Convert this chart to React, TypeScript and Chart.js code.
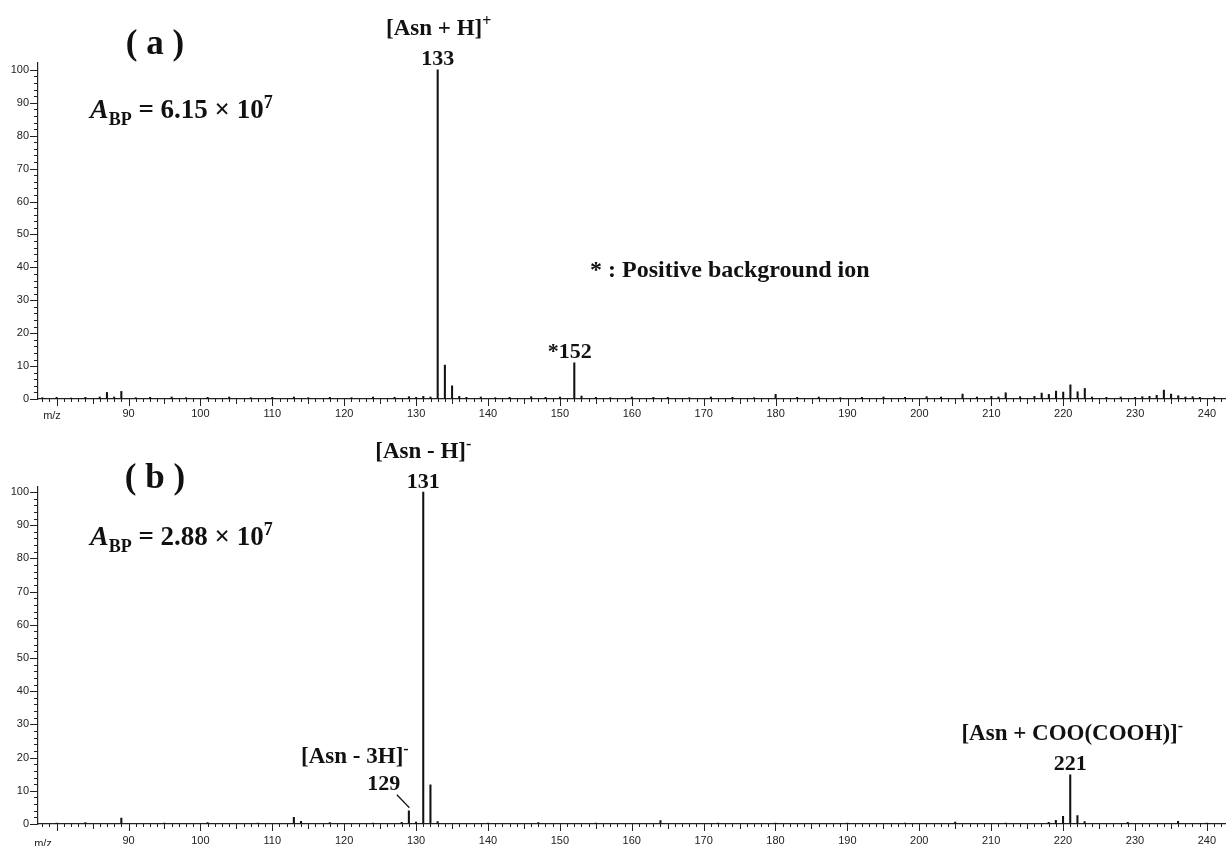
import React, { useEffect, useRef } from "react";
import { Chart, registerables } from "chart.js";

Chart.register(...registerables);

// m/z window shared by both spectra
const MZ_MIN = 77.41;
const MZ_MAX = 242.64;

// x-axis labelled ticks (m/z)
const X_LABELS = [90, 100, 110, 120, 130, 140, 150, 160, 170, 180, 190, 200, 210, 220, 230, 240];

// (a) positive-ion spectrum: m/z and relative abundance (%)
const posMz = [
  78, 80, 82, 84, 86, 87, 88, 89, 91, 93, 96, 98, 101, 104, 107, 110, 113, 115, 118, 121, 124, 127,
  129, 130, 131, 132, 133, 134, 135, 136, 137, 139, 141, 143, 146, 148, 150, 152, 153, 155, 157, 160,
  163, 165, 168, 171, 174, 177, 180, 183, 186, 189, 192, 195, 198, 201, 203, 206, 208, 210, 211, 212,
  214, 216, 217, 218, 219, 220, 221, 222, 223, 224, 226, 228, 230, 231, 232, 233, 234, 235, 236, 237,
  238, 239, 241,
];
const posIntensity = [
  0.4, 0.5, 0.3, 0.5, 0.6, 2.0, 0.6, 2.3, 0.4, 0.5, 0.6, 0.4, 0.5, 0.6, 0.4, 0.5, 0.6, 0.4, 0.5, 0.4, 0.6, 0.5,
  0.7, 0.5, 0.8, 0.6, 100, 10.3, 4.0, 0.8, 0.5, 0.6, 0.4, 0.5, 0.7, 0.5, 0.6, 11.0, 0.9, 0.5, 0.4, 0.6,
  0.5, 0.5, 0.4, 0.6, 0.5, 0.4, 1.4, 0.5, 0.6, 0.4, 0.5, 0.6, 0.5, 0.7, 0.6, 1.5, 0.6, 0.8, 0.6, 1.9,
  0.7, 0.8, 1.8, 1.4, 2.4, 2.1, 4.3, 2.2, 3.2, 0.6, 0.5, 0.6, 0.5, 0.7, 0.8, 1.1, 2.7, 1.5, 1.0, 0.6,
  0.7, 0.5, 0.6,
];

// (b) negative-ion spectrum: m/z and relative abundance (%)
const negMz = [
  80, 84, 89, 95, 101, 108, 113, 114, 118, 124, 128, 129, 130, 131, 132, 133, 140, 147, 155, 164,
  172, 180, 190, 198, 205, 212, 218, 219, 220, 221, 222, 223, 229, 236, 240,
];
const negIntensity = [
  0.3, 0.4, 1.8, 0.3, 0.4, 0.3, 2.0, 0.8, 0.4, 0.3, 0.5, 4.0, 0.6, 100, 11.8, 0.7, 0.3, 0.4, 0.3, 1.0,
  0.3, 0.3, 0.3, 0.3, 0.6, 0.3, 0.5, 1.1, 2.3, 14.8, 2.5, 0.7, 0.5, 0.8, 0.3,
];

// base-peak absolute abundances
const posBasePeak = "6.15";
const negBasePeak = "2.88";

const SANS = '"Liberation Sans", Arial, sans-serif';
const SERIF = '"Liberation Serif", "Times New Roman", serif';

type Piece = { t: string; size: number; italic?: boolean; rise?: number };

const fontOf = (p: Piece) => `${p.italic ? "italic " : ""}bold ${p.size}px ${SERIF}`;

function drawPieces(ctx: CanvasRenderingContext2D, pieces: Piece[], x: number, y: number, align: "left" | "center" | "right") {
  let w = 0;
  for (const p of pieces) {
    ctx.font = fontOf(p);
    w += ctx.measureText(p.t).width;
  }
  let cx = align === "left" ? x : align === "center" ? x - w / 2 : x - w;
  ctx.textAlign = "left";
  ctx.textBaseline = "alphabetic";
  for (const p of pieces) {
    ctx.font = fontOf(p);
    ctx.fillText(p.t, cx, y - (p.rise || 0));
    cx += ctx.measureText(p.t).width;
  }
}

type IonLabel = {
  mz: number;
  formula: Piece[];
  number: Piece[];
  dxFormula: number; // horizontal offset of label centre from the peak
  dxNumber: number;
  formulaRise: number; // baseline height above peak top
  numberRise: number;
  leader?: boolean;
  starred?: boolean;
};

type Panel = {
  mz: number[];
  intensity: number[];
  height: number;
  padTop: number;
  xAxisHeight: number;
  xLabelPad: number;
  yMax: number;
  title: string;
  titleX: number;
  titleBase: number;
  abp: string;
  abpBase: number;
  mzLabelX: number;
  mzLabelY: number;
  ions: IonLabel[];
  note?: { text: string; x: number; y: number };
};

const sup = (t: string): Piece => ({ t, size: 16, rise: 9 });
const big = (t: string): Piece => ({ t, size: 23 });
const num = (t: string): Piece => ({ t, size: 22 });

const panels: Panel[] = [
  {
    mz: posMz,
    intensity: posIntensity,
    height: 425,
    padTop: 63,
    xAxisHeight: 26,
    xLabelPad: 8,
    yMax: 102.1,
    title: "( a )",
    titleX: 155,
    titleBase: 54,
    abp: posBasePeak,
    abpBase: 118,
    mzLabelX: 52,
    mzLabelY: 416,
    ions: [
      { mz: 133, formula: [big("[Asn + H]"), sup("+")], number: [num("133")], dxFormula: 1, dxNumber: 0, formulaRise: 35, numberRise: 5 },
      { mz: 152, formula: [], number: [num("152")], dxFormula: 0, dxNumber: 1, formulaRise: 0, numberRise: 5, starred: true },
    ],
    note: { text: "* : Positive background ion", x: 590, y: 277 },
  },
  {
    mz: negMz,
    intensity: negIntensity,
    height: 421,
    padTop: 62,
    xAxisHeight: 22,
    xLabelPad: 10,
    yMax: 101.5,
    title: "( b )",
    titleX: 155,
    titleBase: 63,
    abp: negBasePeak,
    abpBase: 120,
    mzLabelX: 43,
    mzLabelY: 419,
    ions: [
      { mz: 131, formula: [big("[Asn - H]"), sup("-")], number: [num("131")], dxFormula: 0, dxNumber: 0, formulaRise: 34, numberRise: 4 },
      { mz: 129, formula: [big("[Asn - 3H]"), sup("-")], number: [num("129")], dxFormula: -54, dxNumber: -25, formulaRise: 48, numberRise: 21, leader: true },
      { mz: 221, formula: [big("[Asn + COO(COOH)]"), sup("-")], number: [num("221")], dxFormula: 2, dxNumber: 0, formulaRise: 35, numberRise: 5 },
    ],
  },
];

// Comb-style tick marks on both axes (minor every 1 m/z and every 2 %)
const axisComb = {
  id: "axisComb",
  afterDraw(chart: any) {
    const { ctx, scales } = chart;
    const x = scales.x;
    const y = scales.y;
    ctx.save();
    ctx.strokeStyle = "#222";
    ctx.lineWidth = 1;
    ctx.beginPath();
    for (let v = Math.ceil(x.min); v <= Math.floor(x.max); v++) {
      const px = Math.round(x.getPixelForValue(v)) + 0.5;
      const len = v % 10 === 0 ? 7 : v % 5 === 0 ? 5 : 3;
      ctx.moveTo(px, y.bottom);
      ctx.lineTo(px, y.bottom + len);
    }
    for (let v = 0; v <= 100; v += 2) {
      const py = Math.round(y.getPixelForValue(v)) + 0.5;
      const len = v % 10 === 0 ? 8 : 4;
      ctx.moveTo(x.left - len, py);
      ctx.lineTo(x.left, py);
    }
    ctx.stroke();
    ctx.restore();
  },
};

function textPlugin(panel: Panel) {
  return {
    id: "spectrumText",
    afterDraw(chart: any) {
      const { ctx, scales } = chart;
      const x = scales.x;
      const y = scales.y;
      ctx.save();
      ctx.fillStyle = "#111";

      // panel letter
      drawPieces(ctx, [{ t: panel.title, size: 35 }], panel.titleX, panel.titleBase, "center");

      // base-peak abundance
      drawPieces(
        ctx,
        [
          { t: "A", size: 28, italic: true },
          { t: "BP", size: 18, rise: -7 },
          { t: " = " + panel.abp + " \u00d7 10", size: 27 },
          { t: "7", size: 18, rise: 10 },
        ],
        90,
        panel.abpBase,
        "left"
      );

      // ion annotations anchored on their peaks
      for (const ion of panel.ions) {
        const idx = panel.mz.indexOf(ion.mz);
        const px = x.getPixelForValue(ion.mz);
        const top = y.getPixelForValue(panel.intensity[idx]);
        if (ion.formula.length) drawPieces(ctx, ion.formula, px + ion.dxFormula, top - ion.formulaRise, "center");
        drawPieces(ctx, ion.number, px + ion.dxNumber, top - ion.numberRise, "center");
        if (ion.starred) {
          ctx.font = fontOf(ion.number[0]);
          const w = ctx.measureText(ion.number[0].t).width;
          drawPieces(ctx, [num("*")], px + ion.dxNumber - w / 2, top - ion.numberRise, "right");
        }
        if (ion.leader) {
          ctx.strokeStyle = "#111";
          ctx.lineWidth = 1.2;
          ctx.beginPath();
          ctx.moveTo(px - 12, top - 16);
          ctx.lineTo(px + 0.5, top - 3);
          ctx.stroke();
        }
      }

      if (panel.note) drawPieces(ctx, [{ t: panel.note.text, size: 24 }], panel.note.x, panel.note.y, "left");

      // axis caption
      ctx.font = `11px ${SANS}`;
      ctx.fillStyle = "#222";
      ctx.textAlign = "center";
      ctx.textBaseline = "middle";
      ctx.fillText("m/z", panel.mzLabelX, panel.mzLabelY);
      ctx.restore();
    },
  };
}

function SpectrumPanel({ panel, top }: { panel: Panel; top: number }) {
  const ref = useRef<HTMLCanvasElement | null>(null);

  useEffect(() => {
    if (!ref.current) return;
    const chart = new Chart(ref.current, {
      type: "bar",
      data: {
        datasets: [
          {
            data: panel.mz.map((m, i) => ({ x: m, y: panel.intensity[i] })),
            backgroundColor: "#111",
            borderWidth: 0,
            barThickness: 1.4,
          } as any,
        ],
      },
      options: {
        animation: false,
        responsive: false,
        devicePixelRatio: 1,
        layout: { padding: { top: panel.padTop, left: 0, right: 0, bottom: 0 } },
        plugins: { legend: { display: false }, tooltip: { enabled: false }, title: { display: false } },
        scales: {
          x: {
            type: "linear",
            offset: false,
            min: MZ_MIN,
            max: MZ_MAX,
            grid: { display: true, drawOnChartArea: false, drawTicks: false },
            border: { display: true, color: "#222", width: 1.2 },
            ticks: {
              stepSize: 10,
              includeBounds: false,
              autoSkip: false,
              maxRotation: 0,
              padding: panel.xLabelPad,
              color: "#222",
              font: { family: SANS, size: 11 },
              callback: (v: any) => (X_LABELS.includes(Number(v)) ? String(v) : ""),
            },
            afterFit: (s: any) => {
              s.height = panel.xAxisHeight;
            },
          },
          y: {
            min: 0,
            max: panel.yMax,
            grid: { display: true, drawOnChartArea: false, drawTicks: false },
            border: { display: true, color: "#222", width: 1.2 },
            ticks: {
              stepSize: 10,
              includeBounds: false,
              padding: 9,
              color: "#222",
              font: { family: SANS, size: 11 },
            },
            afterFit: (s: any) => {
              s.width = 38;
            },
          },
        },
      } as any,
      plugins: [axisComb, textPlugin(panel)],
    });
    return () => chart.destroy();
  }, [panel]);

  return (
    <canvas
      ref={ref}
      width={1226}
      height={panel.height}
      style={{ position: "absolute", left: 0, top, width: 1226, height: panel.height, display: "block" }}
    />
  );
}

export default function App() {
  return (
    <div style={{ position: "absolute", left: 0, top: 0, width: 1226, height: 846, background: "#fff", overflow: "hidden" }}>
      <SpectrumPanel panel={panels[0]} top={0} />
      <SpectrumPanel panel={panels[1]} top={425} />
    </div>
  );
}
